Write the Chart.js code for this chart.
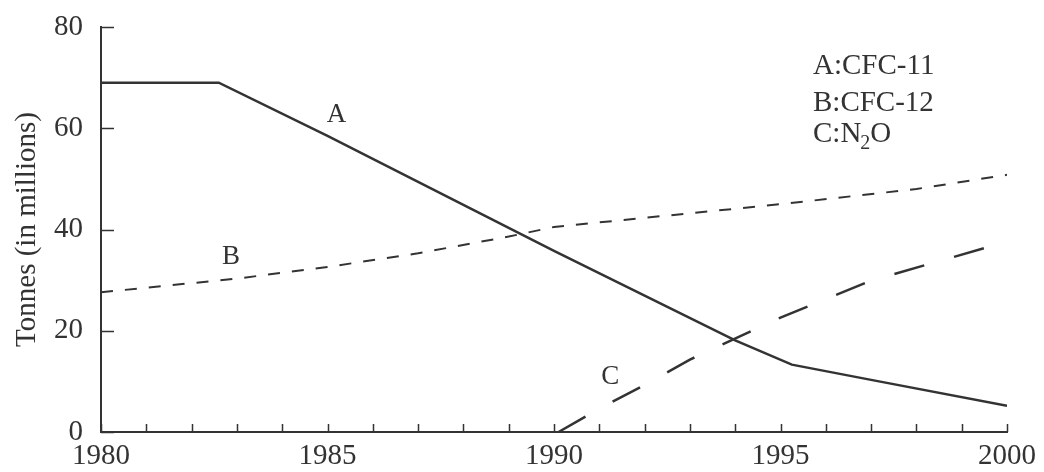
<!DOCTYPE html>
<html lang="en">
<head>
<meta charset="UTF-8">
<title>Tonnes (in millions)</title>
<style>
  html, body { margin: 0; padding: 0; background: #fff; }
  #wrap { width: 1044px; height: 472px; }
</style>
</head>
<body>
<div id="wrap"><canvas id="myChart"></canvas></div>

<script src="https://cdn.jsdelivr.net/npm/chart.js"></script>
<script>
// A: CFC-11 (solid)
const yearsA = [1980, 1982.6, 1985, 1990, 1994, 1995.25, 1997, 2000];
const valuesA = [69.0, 69.0, 58.5, 35.8, 18.1, 13.3, 10.3, 5.2];
// B: CFC-12 (short dashes)
const yearsB = [1980, 1983, 1985, 1987, 1989, 1990, 1995, 1998, 2000];
const valuesB = [27.6, 30.3, 32.6, 35.3, 38.6, 40.5, 45.0, 48.0, 50.8];
// C: N2O (long dashes)
const yearsC = [1990.1, 1991, 1992, 1993, 1995, 1997, 2000];
const valuesC = [0, 4.6, 9.3, 14.3, 22.6, 29.9, 37.6];

const yTicks = [0, 20, 40, 60, 80];
const xTickLabels = [1980, 1985, 1990, 1995, 2000];

const ink = "#333";
const fontFamily = '"Liberation Serif", "Times New Roman", serif';

function toPoints(xs, ys) {
    return xs.map((x, i) => ({ x: x, y: ys[i] }));
}

const axisTicks = {
    id: "axisTicks",
    afterDraw(chart) {
        const ctx = chart.ctx;
        const xs = chart.scales.x;
        const ys = chart.scales.y;
        const area = chart.chartArea;
        ctx.save();
        ctx.strokeStyle = ink;
        ctx.lineWidth = 1.5;
        ctx.beginPath();
        // inward ticks on the value axis
        yTicks.forEach(v => {
            const py = Math.round(ys.getPixelForValue(v)) + 0.5;
            ctx.moveTo(area.left, py);
            ctx.lineTo(area.left + 13, py);
        });
        // one tick per year along the time axis
        for (let yr = xs.min; yr <= xs.max; yr++) {
            const px = Math.round(xs.getPixelForValue(yr)) + 0.5;
            ctx.moveTo(px, area.bottom);
            ctx.lineTo(px, area.bottom - 8);
        }
        ctx.stroke();

        // series letters next to the lines
        ctx.fillStyle = ink;
        ctx.font = "27px " + fontFamily;
        ctx.textAlign = "center";
        ctx.textBaseline = "middle";
        ctx.fillText("A", xs.getPixelForValue(1985.2), ys.getPixelForValue(62.7));
        ctx.fillText("B", xs.getPixelForValue(1982.87), ys.getPixelForValue(34.5));
        ctx.fillText("C", xs.getPixelForValue(1991.24), ys.getPixelForValue(10.9));

        // key, top right
        const kx = area.right - 194;
        ctx.font = "29px " + fontFamily;
        ctx.textAlign = "left";
        ctx.textBaseline = "alphabetic";
        ctx.fillText("A:CFC-11", kx, 74);
        ctx.fillText("B:CFC-12", kx, 111);
        let cx = kx;
        ctx.fillText("C:N", cx, 142);
        cx += ctx.measureText("C:N").width;
        ctx.font = "20px " + fontFamily;
        ctx.fillText("2", cx - 1, 149);
        cx += ctx.measureText("2").width;
        ctx.font = "29px " + fontFamily;
        ctx.fillText("O", cx - 1, 142);
        ctx.restore();
    }
};

const ctx = document.getElementById("myChart");

new Chart(ctx, {
    type: "line",
    data: {
        datasets: [
            {
                label: "A:CFC-11",
                data: toPoints(yearsA, valuesA),
                borderColor: ink,
                borderWidth: 2.5
            },
            {
                label: "B:CFC-12",
                data: toPoints(yearsB, valuesB),
                borderColor: ink,
                borderWidth: 2,
                borderDash: [12, 12]
            },
            {
                label: "C:N2O",
                data: toPoints(yearsC, valuesC),
                borderColor: ink,
                borderWidth: 2.5,
                borderDash: [31, 31]
            }
        ]
    },
    options: {
        responsive: true,
        maintainAspectRatio: false,
        animation: false,
        layout: { padding: { left: 0, right: 37, top: 27, bottom: 0 } },
        elements: {
            point: { radius: 0 },
            line: { tension: 0, fill: false }
        },
        plugins: {
            legend: { display: false },
            tooltip: { enabled: false }
        },
        scales: {
            x: {
                type: "linear",
                min: 1980,
                max: 2000,
                afterFit: s => { s.height = 40; },
                afterBuildTicks: s => { s.ticks = xTickLabels.map(v => ({ value: v })); },
                grid: { display: false, drawTicks: true, tickLength: 7 },
                border: { display: true, color: ink, width: 2 },
                ticks: {
                    color: ink,
                    padding: 0,
                    maxRotation: 0,
                    font: { family: fontFamily, size: 29 },
                    callback: v => String(v)
                }
            },
            y: {
                min: 0,
                max: 80,
                afterFit: s => { s.width = 101; },
                afterBuildTicks: s => { s.ticks = yTicks.map(v => ({ value: v })); },
                // tick marks are drawn by the plugin; tickLength only offsets the labels
                grid: { display: false, drawTicks: true, tickLength: 18 },
                border: { display: true, color: ink, width: 2 },
                ticks: {
                    color: ink,
                    padding: 0,
                    font: { family: fontFamily, size: 29 }
                },
                title: {
                    display: true,
                    text: "Tonnes (in millions)",
                    color: ink,
                    padding: { top: 10, bottom: 0 },
                    font: { family: fontFamily, size: 29 }
                }
            }
        }
    },
    plugins: [axisTicks]
});
</script>
</body>
</html>
